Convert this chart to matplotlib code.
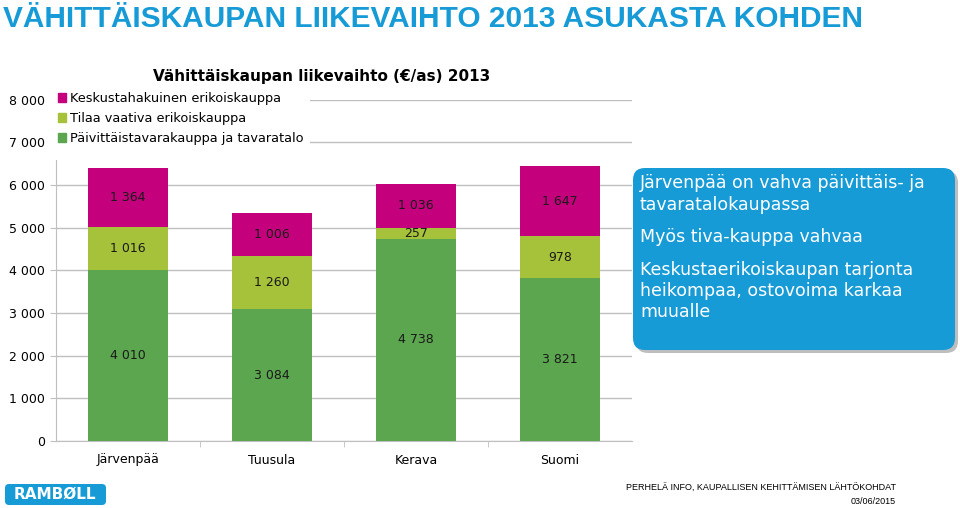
import numpy as np
import matplotlib
matplotlib.use("Agg")
import matplotlib.pyplot as plt
from matplotlib.patches import Patch, Rectangle, FancyBboxPatch

plt.rcParams['font.family'] = ['DejaVu Sans']

# data
kunnat = ['Järvenpää', 'Tuusula', 'Kerava', 'Suomi']
paivittais = [4010, 3084, 4738, 3821]     # Päivittäistavarakauppa ja tavaratalo
tiva = [1016, 1260, 257, 978]            # Tilaa vaativa erikoiskauppa
keskusta = [1364, 1006, 1036, 1647]      # Keskustahakuinen erikoiskauppa
sarjat = ['Päivittäistavarakauppa ja tavaratalo', 'Tilaa vaativa erikoiskauppa',
          'Keskustahakuinen erikoiskauppa']
y_ticks = [0, 1000, 2000, 3000, 4000, 5000, 6000, 7000, 8000]

varit = ['#5CA64F', '#A6C23B', '#C4007C']
sininen = '#179BD7'
harmaa = '#BFBFBF'

W, H = 960, 508
fig = plt.figure(figsize=(W / 100, H / 100), dpi=100)
ax = fig.add_axes([56 / W, 1 - 441 / H, 576 / W, 341.3 / H])

x = np.arange(len(kunnat))
pohja = np.zeros(len(kunnat))
for arvot, vari, nimi in zip([paivittais, tiva, keskusta], varit, sarjat):
    arvot = np.array(arvot)
    ax.bar(x, arvot, 0.555, bottom=pohja, color=vari, label=nimi, zorder=3)
    for xi, b, v in zip(x, pohja, arvot):
        ax.text(xi, b + v / 2, f'{v:,}'.replace(',', ' '), ha='center', va='center',
                fontsize=9, color='#1a1a1a', zorder=4)
    pohja = pohja + arvot

ax.set_xlim(-0.5, len(kunnat) - 0.5)
ax.set_ylim(0, 8000)
ax.set_yticks(y_ticks)
ax.set_yticklabels([f'{t:,}'.replace(',', ' ') for t in y_ticks], fontsize=9)
ax.set_xticks(x)
ax.set_xticklabels(kunnat, fontsize=9)
ax.set_xticks(np.arange(0.5, len(kunnat) - 0.5), minor=True)
ax.tick_params(axis='x', which='major', length=0, pad=9)
ax.tick_params(axis='x', which='minor', length=4, color=harmaa)
ax.tick_params(axis='y', length=4, color=harmaa, pad=4)
ax.set_axisbelow(True)
ax.grid(axis='y', color=harmaa, lw=1)
for s in ['top', 'right']:
    ax.spines[s].set_visible(False)
for s in ['left', 'bottom']:
    ax.spines[s].set_color(harmaa)

# valkoinen tausta selitteen alle
ax.add_patch(Rectangle((-0.015, 0.823), 0.456, 0.2, transform=ax.transAxes,
                       facecolor='white', edgecolor='none', zorder=2.7, clip_on=False))

kahvat = [Patch(color=varit[2]), Patch(color=varit[1]), Patch(color=varit[0])]
leg = ax.legend(kahvat, [sarjat[2], sarjat[1], sarjat[0]], loc='upper left',
                bbox_to_anchor=(58 / W, 1 - 92 / H), bbox_transform=fig.transFigure,
                frameon=False, fontsize=9.3, handlelength=0.65, handleheight=0.65,
                handletextpad=0.3, labelspacing=0.55, borderpad=0, borderaxespad=0)
leg.set_zorder(5)

# otsikot
fig.text(322 / W, 1 - 76 / H, 'Vähittäiskaupan liikevaihto (€/as) 2013',
         ha='center', va='center', fontsize=11, fontweight='bold')
fig.text(3 / W, 1 - 19 / H, 'VÄHITTÄISKAUPAN LIIKEVAIHTO 2013 ASUKASTA KOHDEN',
         ha='left', va='center', fontsize=21.5, fontweight='bold', color=sininen,
         family='Liberation Sans')

# koristeet pikseleinä
ov = fig.add_axes([0, 0, 1, 1])
ov.set_xlim(0, W)
ov.set_ylim(0, H)
ov.axis('off')


def laatikko(x0, y0, w, h, vari, r, z, alpha=1.0):
    ov.add_patch(FancyBboxPatch((x0, H - y0 - h), w, h,
                                boxstyle=f'round,pad=0,rounding_size={r}',
                                facecolor=vari, edgecolor='none', alpha=alpha, zorder=z))


laatikko(636, 171, 322, 182, '#7f7f7f', 12, 1, alpha=0.5)
laatikko(633, 168, 322, 182, sininen, 12, 2)
rivit = [('Järvenpää on vahva päivittäis- ja', 183), ('tavaratalokaupassa', 205),
         ('Myös tiva-kauppa vahvaa', 237), ('Keskustaerikoiskaupan tarjonta', 270),
         ('heikompaa, ostovoima karkaa', 291), ('muualle', 312)]
for teksti, yy in rivit:
    ov.text(640, H - yy, teksti, ha='left', va='center', fontsize=12.5, color='white', zorder=3)

laatikko(5, 484, 101, 21, sininen, 4, 2)
ov.text(55, H - 494.5, 'RAMBØLL', ha='center', va='center', fontsize=11,
        fontweight='bold', color='white', zorder=3)

ov.text(896, H - 488, 'PERHELÄ INFO, KAUPALLISEN KEHITTÄMISEN LÄHTÖKOHDAT', ha='right',
        va='center', fontsize=6.5, family='Liberation Sans')
ov.text(896, H - 502, '03/06/2015', ha='right', va='center', fontsize=6.5,
        family='Liberation Sans')

fig.savefig('out.png', dpi=100)
